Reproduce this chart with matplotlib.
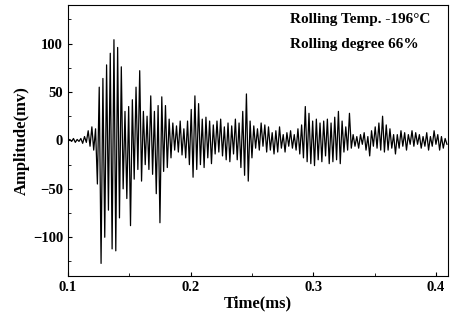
import numpy as np
import matplotlib.pyplot as plt
from matplotlib.ticker import MultipleLocator

# acoustic emission waveform, sampled every 1.5 us starting at 0.1 ms
t_start = 0.1
dt = 0.0015
amp = [0, 1, -1, 2, -2, 1, -1, 2, -3, 4, -2, 10, -6, 14, -10,
       12, -45, 55, -127, 64, -100, 78, -72, 90, -112, 104, -114, 96, -80, 76, -50,
       30, -60, 35, -88, 42, -40, 55, -30, 72, -42, 30, -25, 25, -30, 46, -35, 30, -55,
       36, -85, 45, -32, 36, -28, 22, -18, 18, -10, 15, -12, 20, -15, 12, -18, 20,
       -25, 32, -38, 46, -30, 38, -25, 22, -28, 24, -18, 20, -24, 16, -14, 20, -12,
       22, -16, 14, -20, 18, -22, 15, -14, 22, -20, 18, -28, 30, -36, 48, -42, 20,
       -18, 15, -8, 12, -10, 18, -6, 16, -12, 14, -10, 8, -14, 10, -12, 14, -8, 6,
       -12, 8, -6, 10, -8, 6, -10, 12, -14, 16, -18, 35, -22, 28, -24, 20, -26, 22,
       -20, 18, -22, 20, -16, 22, -24, 18, -22, 24, -20, 30, -24, 20, -12, 14, -10,
       28, -8, 6, -6, 4, -8, 6, -4, 8, -10, 4, -16, 10, -6, 14, -8, 18, -10, 25,
       -12, 16, -10, 12, -8, 6, -14, 6, -8, 10, -6, 8, -10, 6, -4, 10, -6, 8, -4,
       6, -8, 4, -6, 8, -10, 4, -6, 10, -4, 6, -10, 4, -8, 2, -4]
time = t_start + dt * np.arange(len(amp))

label1 = 'Rolling Temp. -196\u00b0C'
label2 = 'Rolling degree 66%'

plt.rcParams['font.family'] = ['Liberation Serif', 'DejaVu Serif']
plt.rcParams['font.weight'] = 'bold'

fig = plt.figure(figsize=(4.5, 3.23), dpi=100)
ax = fig.add_axes([0.151, 0.1455, 0.845, 0.8395])
ax.plot(time, amp, color='black', linewidth=0.9)

ax.set_xlim(0.1, 0.41)
ax.set_ylim(-140, 140)
ax.xaxis.set_major_locator(MultipleLocator(0.1))
ax.xaxis.set_minor_locator(MultipleLocator(0.05))
ax.yaxis.set_major_locator(MultipleLocator(50))
ax.yaxis.set_minor_locator(MultipleLocator(25))
ax.tick_params(which='both', direction='in', labelsize=10.5)
ax.tick_params(which='major', length=3)
ax.tick_params(which='minor', length=2)
for lab in ax.get_xticklabels() + ax.get_yticklabels():
    lab.set_fontweight('bold')

ax.set_xlabel('Time(ms)', fontsize=12, fontweight='bold', labelpad=1)
ax.set_ylabel('Amplitude(mv)', fontsize=12, fontweight='bold', labelpad=2)

ax.text(0.585, 0.945, label1, transform=ax.transAxes, fontsize=11, fontweight='bold', va='center')
ax.text(0.585, 0.852, label2, transform=ax.transAxes, fontsize=11, fontweight='bold', va='center')

fig.savefig('out.png', dpi=100)
